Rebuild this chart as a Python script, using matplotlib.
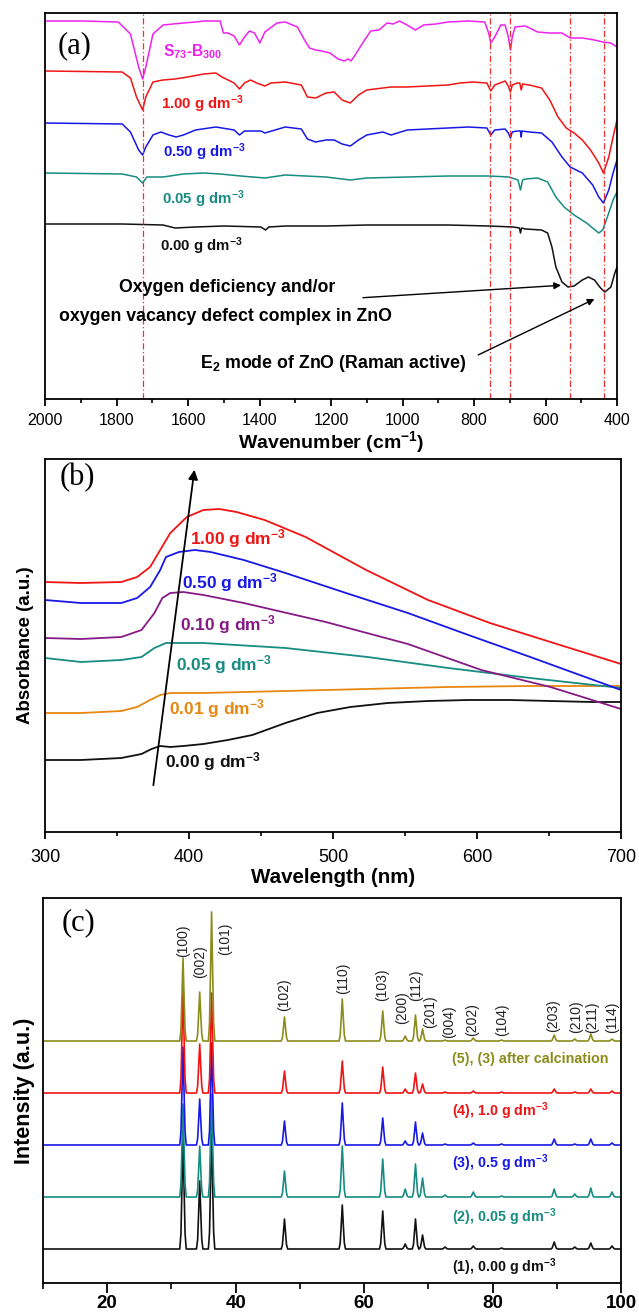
import matplotlib
matplotlib.use("Agg")
import matplotlib.pyplot as plt
import numpy as np
from matplotlib.ticker import MultipleLocator
import matplotlib.transforms as mtransforms

plt.rcParams["font.family"] = ["Liberation Sans", "DejaVu Sans"]
plt.rcParams["mathtext.fontset"] = "custom"
plt.rcParams["mathtext.rm"] = "Liberation Sans:bold"
plt.rcParams["mathtext.bf"] = "Liberation Sans:bold"
plt.rcParams["mathtext.it"] = "Liberation Sans:bold"
plt.rcParams["mathtext.default"] = "bf"

# ---------------- (a) FTIR, transmittance (offset, arb. units) ----------------
ftir_s73_w = [2000, 1897, 1795, 1761, 1738, 1727, 1718, 1698, 1670, 1613, 1579, 1556, 1510, 1501,
              1488, 1471, 1456, 1442, 1428, 1414, 1399, 1385, 1351, 1328, 1294, 1274, 1260, 1243,
              1226, 1203, 1180, 1163, 1152, 1144, 1129, 1106, 1089, 1066, 1043, 1026, 1009, 987,
              964, 941, 907, 873, 816, 770, 759, 753, 742, 725, 713, 704, 698, 693, 685, 656, 622,
              588, 554, 531, 497, 463, 440, 417, 400]
ftir_s73_t = [379, 379, 378, 366, 333, 321, 333, 366, 375, 377, 378, 379, 379, 367,
              367, 364, 355, 363, 369, 367, 357, 368, 377, 378, 373, 360, 352, 350,
              349, 347, 341, 339, 341, 339, 347, 360, 369, 370, 377, 376, 379, 375,
              370, 375, 376, 378, 379, 378, 367, 357, 363, 375, 375, 363, 350, 363, 373, 374, 368,
              367, 367, 362, 362, 360, 358, 357, 353]

ftir_100_w = [2000, 1784, 1761, 1744, 1727, 1718, 1698, 1670, 1636, 1601, 1556, 1522, 1505, 1488,
              1471, 1456, 1442, 1425, 1408, 1385, 1368, 1328, 1283, 1266, 1243, 1214, 1191, 1169,
              1146, 1123, 1100, 1055, 1032, 987, 930, 873, 838, 804, 764, 753, 742, 713, 704, 698,
              693, 679, 672, 668, 664, 645, 611, 588, 565, 542, 520, 497, 474, 451, 438, 423, 411, 400]
ftir_100_t = [329, 328, 322, 303, 290, 303, 318, 320, 321, 323, 326, 327, 323, 320,
              317, 311, 317, 320, 317, 314, 317, 318, 315, 303, 302, 307, 308, 300,
              297, 305, 310, 312, 313, 313, 314, 315, 317, 318, 317, 309, 315, 319, 314, 308,
              315, 317, 317, 310, 316, 315, 312, 300, 283, 272, 267, 260, 250, 237, 227, 243, 263, 280]

ftir_050_w = [2000, 1784, 1761, 1738, 1727, 1718, 1698, 1676, 1653, 1633, 1613, 1579, 1522, 1505,
              1471, 1456, 1442, 1396, 1385, 1328, 1283, 1266, 1243, 1214, 1191, 1169, 1146, 1123,
              1100, 1055, 1032, 987, 930, 873, 816, 764, 753, 742, 713, 704, 698, 693, 680, 670,
              668, 666, 645, 611, 582, 554, 531, 497, 468, 451, 438, 423, 411, 400]
ftir_050_t = [277, 276, 268, 250, 245, 253, 265, 268, 265, 263, 265, 270, 273, 272,
              270, 265, 269, 269, 267, 273, 271, 261, 258, 260, 260, 256, 254, 260,
              265, 268, 265, 270, 271, 272, 273, 272, 265, 270, 271, 267, 262, 268, 269, 269,
              263, 269, 268, 267, 258, 243, 233, 227, 215, 203, 197, 210, 227, 240]

ftir_005_w = [2000, 1784, 1744, 1727, 1715, 1670, 1613, 1556, 1510, 1453, 1385, 1328, 1271, 1214,
              1146, 1100, 987, 873, 759, 702, 677, 670, 664, 656, 622, 594, 571, 548, 520, 485,
              451, 440, 423, 411, 400]
ftir_005_t = [227, 226, 223, 217, 223, 223, 226, 227, 226, 224, 222, 225, 224, 223,
              220, 222, 223, 224, 224, 223, 220, 210, 220, 221, 222, 218, 203, 193, 185, 177,
              167, 170, 187, 200, 208]

ftir_000_w = [2000, 1898, 1784, 1670, 1636, 1579, 1499, 1396, 1383, 1374, 1328, 1214, 1100, 987,
              873, 759, 690, 673, 670, 667, 656, 611, 594, 582, 571, 554, 537, 520, 497, 480, 463,
              446, 434, 417, 406, 400]
ftir_000_t = [176, 176, 176, 175, 172, 173, 174, 173, 170, 173, 174, 174, 175, 175,
              175, 174, 173, 172, 167, 172, 171, 170, 167, 153, 133, 118, 113, 114, 120, 123, 120,
              112, 108, 113, 127, 133]

ftir_marks = [1727, 755, 698, 531, 437]

# ---------------- (b) UV-vis absorbance (offset, arb. units) ----------------
uv_100_nm = [300, 325, 353, 364, 373, 380, 387, 398.5, 410, 421, 433, 452.5, 481, 523, 566, 609, 651, 700]
uv_100_a = [250, 249, 250, 255, 265, 282, 299, 315, 322, 323, 320, 312, 295, 262, 232, 209, 190, 168]
uv_050_nm = [300, 325, 353, 364, 373, 380, 384, 393, 404, 415, 438, 467, 509, 552, 594, 637, 700]
uv_050_a = [232, 229, 229, 234, 245, 262, 275, 280, 282, 280, 272, 259, 239, 219, 197, 175, 142]
uv_010_nm = [300, 325, 353, 367, 376, 381.5, 387, 396, 410, 438, 495, 552, 603, 651, 700]
uv_010_a = [194, 193, 195, 202, 219, 234, 239, 240, 237, 229, 210, 188, 162, 145, 123]
uv_005_nm = [300, 325, 353, 367, 376, 384, 396, 410, 467, 524, 580, 637, 700]
uv_005_a = [174, 170, 172, 175, 184, 189, 189, 189, 184, 175, 164, 154, 144]
uv_001_nm = [300, 325, 353, 364, 373, 380, 387, 410, 467, 523, 580, 637, 700]
uv_001_a = [119, 119, 121, 125, 132, 137, 139, 139, 141, 143, 145, 146, 146]
uv_000_nm = [300, 325, 353, 367, 374, 380, 387, 396, 410, 427, 444, 467, 489, 512, 538, 566,
             594, 623, 651, 680, 700]
uv_000_a = [72, 72, 74, 78, 83, 86, 85, 86, 88, 92, 97, 109, 119, 125, 129, 131,
            132, 132, 131, 130, 130]
uv_arrow_nm = [375, 404]
uv_arrow_a = [44, 365]

# ---------------- (c) XRD ----------------
hkl = ["(100)", "(002)", "(101)", "(102)", "(110)", "(103)", "(200)", "(112)", "(201)",
       "(004)", "(202)", "(104)", "(203)", "(210)", "(211)", "(114)"]
two_theta = [31.8, 34.4, 36.25, 47.6, 56.6, 62.9, 66.4, 68.0, 69.1,
             72.6, 77.0, 81.4, 89.6, 92.8, 95.3, 98.6]
xrd_base = {"1": 34, "2": 86, "3": 138, "4": 190, "5": 242}
xrd_h1 = [113, 68, 120, 30, 44, 38, 5, 30, 14, 2, 3, 1, 7, 2, 6, 3]
xrd_h2 = [93, 51, 103, 26, 51, 38, 8, 33, 19, 2, 5, 1, 8, 3, 9, 5]
xrd_h3 = [98, 46, 102, 24, 42, 27, 4, 23, 12, 1, 2, 1, 6, 1, 6, 2]
xrd_h4 = [104, 49, 100, 22, 32, 26, 4, 20, 9, 1, 2, 1, 4, 1, 4, 2]
xrd_h5 = [83, 49, 129, 24, 42, 30, 5, 26, 12, 1, 3, 1, 6, 2, 7, 2]

# colours
MAG, RED, BLUE, TEAL = "#EE22EE", "#F01414", "#1818E6", "#168C82"
PURP, ORNG, OLIVE, BLK = "#861A86", "#E8870F", "#8C8C1C", "#111111"

# peak profile template (style): offsets in degrees and fraction of peak height
PK_DX = [-0.5, -0.32, -0.18, 0.0, 0.18, 0.32, 0.5]
PK_FR = [0.0, 0.14, 0.5, 1.0, 0.5, 0.14, 0.0]


def xrd_line(base, heights):
    xs, ys = [10.0], [base]
    for p, h in zip(two_theta, heights):
        for dx, fr in zip(PK_DX, PK_FR):
            xs.append(p + dx)
            ys.append(base + fr * h)
    xs.append(100.0)
    ys.append(base)
    order = np.argsort(xs, kind="stable")
    return np.array(xs)[order], np.array(ys)[order]


def style_axis(ax, lab_size, bold=False):
    for s in ax.spines.values():
        s.set_linewidth(1.3)
    ax.tick_params(axis="y", left=False, labelleft=False)
    ax.tick_params(axis="x", which="major", direction="out", length=5, width=1.3,
                   labelsize=lab_size, pad=5)
    ax.tick_params(axis="x", which="minor", direction="out", length=3, width=1.2)
    if bold:
        for t in ax.get_xticklabels():
            t.set_fontweight("bold")


W, H = 639, 1313
fig = plt.figure(figsize=(W / 100, H / 100), dpi=100)


def rect(l, t, r, b):
    return [l / W, 1 - b / H, (r - l) / W, (b - t) / H]


# ---- panel (a)
ax = fig.add_axes(rect(45, 13, 617, 399))
lw = 1.1
ax.plot(ftir_000_w, ftir_000_t, color=BLK, lw=lw)
ax.plot(ftir_005_w, ftir_005_t, color=TEAL, lw=lw)
ax.plot(ftir_050_w, ftir_050_t, color=BLUE, lw=lw)
ax.plot(ftir_100_w, ftir_100_t, color=RED, lw=lw)
ax.plot(ftir_s73_w, ftir_s73_t, color=MAG, lw=lw)
for m in ftir_marks:
    ax.axvline(m, color="#F03030", ls=(0, (5, 2, 1, 2)), lw=0.9)
ax.set_xlim(2000, 400)
ax.set_ylim(1, 387)
ax.xaxis.set_major_locator(MultipleLocator(200))
ax.xaxis.set_minor_locator(MultipleLocator(100))
style_axis(ax, 11.5)
ax.set_xlabel("Wavenumber (cm$^{-1}$)", fontsize=14, fontweight="bold", labelpad=1)
ax.text(0.052, 0.915, "(a)", transform=ax.transAxes, family="Liberation Serif",
        fontsize=22, ha="center", va="center")
fs = 10.8
ax.text(0.206, 0.899, "S$_{73}$-B$_{300}$", transform=ax.transAxes, color=MAG,
        fontsize=11.2, fontweight="bold", va="center")
ax.text(0.203, 0.764, "1.00 g dm$^{-3}$", transform=ax.transAxes, color=RED,
        fontsize=fs, fontweight="bold", va="center")
ax.text(0.206, 0.640, "0.50 g dm$^{-3}$", transform=ax.transAxes, color=BLUE,
        fontsize=fs, fontweight="bold", va="center")
ax.text(0.205, 0.518, "0.05 g dm$^{-3}$", transform=ax.transAxes, color=TEAL,
        fontsize=fs, fontweight="bold", va="center")
ax.text(0.201, 0.396, "0.00 g dm$^{-3}$", transform=ax.transAxes, color=BLK,
        fontsize=fs, fontweight="bold", va="center")
fa = 12.8
ax.text(0.318, 0.290, "Oxygen deficiency and/or", transform=ax.transAxes,
        fontsize=fa, fontweight="bold", ha="center", va="center")
ax.text(0.315, 0.215, "oxygen vacancy defect complex in ZnO", transform=ax.transAxes,
        fontsize=fa, fontweight="bold", ha="center", va="center")
ax.text(0.503, 0.093, "E$_2$ mode of ZnO (Raman active)", transform=ax.transAxes,
        fontsize=fa, fontweight="bold", ha="center", va="center")
ap = dict(arrowstyle="-|>", color="black", lw=1.0, mutation_scale=10)
ax.annotate("", xy=(0.907, 0.295), xytext=(0.551, 0.262), xycoords="axes fraction",
            textcoords="axes fraction", arrowprops=ap)
ax.annotate("", xy=(0.965, 0.262), xytext=(0.753, 0.111), xycoords="axes fraction",
            textcoords="axes fraction", arrowprops=ap)

# ---- panel (b)
bx = fig.add_axes(rect(45, 459, 621, 832))
lw = 1.3
bx.plot(uv_000_nm, uv_000_a, color=BLK, lw=lw)
bx.plot(uv_001_nm, uv_001_a, color=ORNG, lw=lw)
bx.plot(uv_005_nm, uv_005_a, color=TEAL, lw=lw)
bx.plot(uv_010_nm, uv_010_a, color=PURP, lw=lw)
bx.plot(uv_050_nm, uv_050_a, color=BLUE, lw=lw)
bx.plot(uv_100_nm, uv_100_a, color=RED, lw=lw)
bx.annotate("", xy=(uv_arrow_nm[1], uv_arrow_a[1]), xytext=(uv_arrow_nm[0], uv_arrow_a[0]),
            arrowprops=dict(arrowstyle="-|>", color="black", lw=1.3, mutation_scale=14))
bx.set_xlim(300, 700)
bx.set_ylim(0, 373)
bx.xaxis.set_major_locator(MultipleLocator(100))
bx.xaxis.set_minor_locator(MultipleLocator(50))
style_axis(bx, 13)
bx.tick_params(axis="x", pad=7)
bx.set_xlabel("Wavelength (nm)", fontsize=14.8, fontweight="bold", labelpad=2)
bx.set_ylabel("Absorbance (a.u.)", fontsize=13.5, fontweight="bold", labelpad=8)
bx.text(0.057, 0.949, "(b)", transform=bx.transAxes, family="Liberation Serif",
        fontsize=22, ha="center", va="center")
fs = 12.5
for fx, fy, lab, c in [(0.252, 0.788, "1.00", RED), (0.238, 0.668, "0.50", BLUE),
                       (0.234, 0.555, "0.10", PURP), (0.227, 0.448, "0.05", TEAL),
                       (0.215, 0.332, "0.01", ORNG), (0.208, 0.190, "0.00", BLK)]:
    bx.text(fx, fy, lab + " g dm$^{-3}$", transform=bx.transAxes, color=c,
            fontsize=fs, fontweight="bold", va="center")

# ---- panel (c)
cx = fig.add_axes(rect(43, 898, 621, 1283))
lw = 1.2
for key, hts, c in [("1", xrd_h1, BLK), ("2", xrd_h2, TEAL), ("3", xrd_h3, BLUE),
                    ("4", xrd_h4, RED), ("5", xrd_h5, OLIVE)]:
    xs, ys = xrd_line(xrd_base[key], hts)
    cx.plot(xs, ys, color=c, lw=lw)
cx.set_xlim(10, 100)
cx.set_ylim(0, 385)
cx.xaxis.set_major_locator(MultipleLocator(20))
cx.xaxis.set_minor_locator(MultipleLocator(10))
style_axis(cx, 13.5, bold=True)
cx.tick_params(axis="x", which="major", length=7, pad=2)
cx.tick_params(axis="x", which="minor", length=4)
cx.set_ylabel("Intensity (a.u.)", fontsize=15.5, fontweight="bold", labelpad=6)
cx.text(0.062, 0.935, "(c)", transform=cx.transAxes, family="Liberation Serif",
        fontsize=22, ha="center", va="center")
# hkl label positions (x in 2-theta, y in axes fraction)
hkl_x = [31.8, 34.4, 38.3, 47.6, 56.7, 62.8, 65.9, 68.1, 70.3, 73.2, 76.8, 81.5,
         89.4, 93.0, 95.5, 98.6]
hkl_y = [0.888, 0.834, 0.894, 0.748, 0.792, 0.774, 0.714, 0.774, 0.704, 0.678, 0.683,
         0.683, 0.694, 0.691, 0.691, 0.691]
blend = mtransforms.blended_transform_factory(cx.transData, cx.transAxes)
for lab, hx, hy in zip(hkl, hkl_x, hkl_y):
    cx.text(hx, hy, lab, transform=blend, rotation=90, fontsize=10,
            ha="center", va="center", color="#222222")
fs = 10.3
for fy, lab, c in [(0.582, "(5), (3) after calcination", OLIVE),
                   (0.447, "(4), 1.0 g dm$^{-3}$", RED),
                   (0.312, "(3), 0.5 g dm$^{-3}$", BLUE),
                   (0.171, "(2), 0.05 g dm$^{-3}$", TEAL),
                   (0.042, "(1), 0.00 g dm$^{-3}$", BLK)]:
    cx.text(0.708, fy, lab, transform=cx.transAxes, color=c, fontsize=fs,
            fontweight="bold", va="center")

fig.savefig("out.png", dpi=100)
